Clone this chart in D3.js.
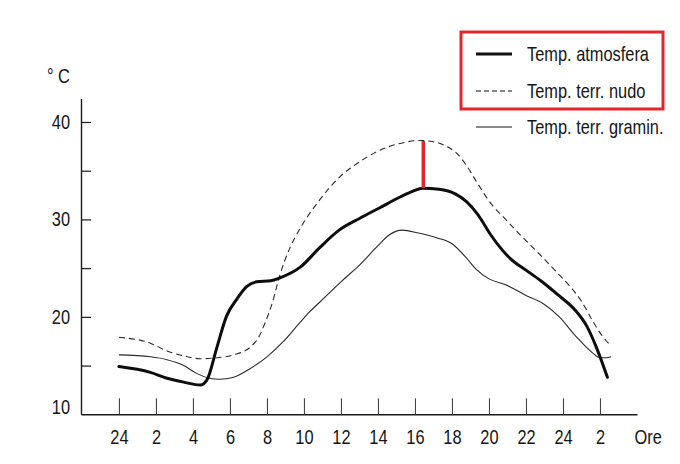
<!DOCTYPE html>
<html>
<head>
<meta charset="utf-8">
<script src="https://cdn.jsdelivr.net/npm/d3@7"></script>
<style>
  html, body { margin: 0; padding: 0; background: #ffffff; }
  svg { display: block; }
  text { font-family: "Liberation Sans", Arial, Helvetica, sans-serif; fill: #151515; }
</style>
</head>
<body>
<svg id="chart" width="680" height="464"></svg>
<script>
// ---- data (hours counted from the first "24" tick) ----
const tickHours  = [0, 2, 4, 6, 8, 10, 12, 14, 16, 18, 20, 22, 24, 26];
const tickLabels = ["24", "2", "4", "6", "8", "10", "12", "14", "16", "18", "20", "22", "24", "2"];
const yTicks     = [10, 15, 20, 25, 30, 35, 40];
const yLabels    = [10, 20, 30, 40];

const seriesNames = ["Temp. atmosfera", "Temp. terr. nudo", "Temp. terr. gramin."];

const atmosferaOre = [0, 1.7, 2.6, 3.5, 4.4, 4.75, 5.3, 5.8, 6.4, 6.9, 7.45, 8.2, 8.7, 9.8, 10.85, 11.9, 13.0, 14.1, 15.2, 15.9, 16.4, 17.3, 18.2, 18.8, 19.4, 20.1, 20.7, 21.2, 22.0, 22.8, 23.7, 24.7, 25.3, 25.8, 26.4];
const atmosferaT   = [14.9, 14.3, 13.7, 13.3, 13.0, 13.5, 16.9, 20.0, 21.9, 23.1, 23.6, 23.7, 24.0, 25.1, 27.1, 28.9, 30.1, 31.2, 32.3, 32.9, 33.2, 33.1, 32.6, 31.8, 30.5, 28.4, 26.9, 25.9, 24.8, 23.7, 22.3, 20.6, 19.0, 16.9, 13.8];

const nudoOre = [0, 1.7, 2.6, 3.5, 4.4, 5.3, 6.2, 7.1, 7.55, 7.9, 8.3, 8.7, 9.2, 9.8, 10.85, 11.9, 13.0, 14.1, 15.2, 16.25, 16.95, 17.6, 18.25, 18.8, 19.35, 20.0, 20.95, 21.8, 22.75, 23.65, 24.35, 25.0, 25.6, 26.1, 26.6];
const nudoT   = [17.9, 17.3, 16.5, 16.0, 15.7, 15.8, 16.1, 16.9, 17.9, 19.4, 21.5, 24.3, 26.9, 29.1, 32.0, 34.3, 35.9, 37.1, 37.8, 38.1, 38.0, 37.6, 36.8, 35.5, 33.8, 31.9, 29.9, 28.2, 26.4, 24.6, 23.2, 21.6, 19.6, 18.1, 17.0];

const graminOre = [0, 1.7, 2.6, 3.5, 4.2, 4.9, 5.45, 6.2, 7.1, 8.0, 8.85, 9.8, 10.3, 10.85, 12.0, 13.0, 14.0, 14.6, 15.3, 16.2, 17.2, 18.0, 18.8, 19.3, 20.0, 20.9, 22.0, 22.9, 23.8, 24.7, 25.6, 26.0, 26.35, 26.6];
const graminT   = [16.1, 15.9, 15.6, 15.0, 14.2, 13.7, 13.6, 13.8, 14.7, 15.9, 17.4, 19.45, 20.5, 21.5, 23.6, 25.3, 27.3, 28.4, 28.9, 28.6, 28.1, 27.5, 26.0, 24.9, 23.9, 23.3, 22.2, 21.4, 20.0, 18.0, 16.3, 15.8, 15.8, 15.9];

// red marker: difference between the two peaks
const markerOra = 16.45;
const markerDa  = 38.05;
const markerA   = 33.2;

// ---- drawing ----
const svg = d3.select("#chart");
const x = d3.scaleLinear().domain([-2.05, 28]).range([81, 637]);
const y = d3.scaleLinear().domain([10, 42.4]).range([414.3, 98.6]);

const ink = "#1a1a1a";
const SX = 0.82; // narrow (condensed) letter shapes as in the original

function narrow(sel) {
  sel.each(function () {
    const t = d3.select(this);
    const tx = +t.attr("x") || 0, ty = +t.attr("y") || 0;
    t.attr("x", 0).attr("y", 0).attr("transform", `translate(${tx},${ty}) scale(${SX},1)`);
  });
}

// x axis
const xAxis = d3.axisBottom(x)
  .tickValues(tickHours)
  .tickFormat((d, i) => tickLabels[i])
  .tickSizeInner(-16)
  .tickSizeOuter(0)
  .tickPadding(15);
const gx = svg.append("g").attr("transform", `translate(0,${y(10)})`).call(xAxis);
gx.attr("font-family", null).attr("font-size", null);
gx.select(".domain").attr("stroke", ink).attr("stroke-width", 1.4);
gx.selectAll(".tick line").attr("stroke", "#444").attr("stroke-width", 1.1);
gx.selectAll(".tick text").attr("font-size", 20).attr("fill", ink).call(narrow);

// y axis
const yAxis = d3.axisLeft(y)
  .tickValues(yTicks)
  .tickFormat(d => yLabels.includes(d) ? String(d) : "")
  .tickSizeInner(-10)
  .tickSizeOuter(0)
  .tickPadding(11);
const gy = svg.append("g").attr("transform", `translate(${x(-2.05)},0)`).call(yAxis);
gy.attr("font-family", null).attr("font-size", null);
gy.select(".domain").attr("stroke", ink).attr("stroke-width", 1.4);
gy.selectAll(".tick line").attr("stroke", ink).attr("stroke-width", 1.2)
  .attr("display", d => d === 10 ? "none" : null);
gy.selectAll(".tick text").attr("font-size", 20).attr("fill", ink)
  .attr("dy", d => d === 10 ? "-0.05em" : "0.32em").call(narrow);

// unit labels
svg.append("text").attr("x", 47).attr("y", 83).attr("font-size", 20).text("° C").call(narrow);
svg.append("text").attr("x", x(28.6)).attr("y", y(10) + 30).attr("text-anchor", "middle")
  .attr("font-size", 20).text("Ore").call(narrow);

// lines
const line = d3.line().x(d => x(d[0])).y(d => y(d[1])).curve(d3.curveMonotoneX);
const zip = (a, b) => a.map((v, i) => [v, b[i]]);

svg.append("path").datum(zip(graminOre, graminT)).attr("d", line)
  .attr("fill", "none").attr("stroke", "#2a2a2a").attr("stroke-width", 1.1);
svg.append("path").datum(zip(nudoOre, nudoT)).attr("d", line)
  .attr("fill", "none").attr("stroke", "#2a2a2a").attr("stroke-width", 1.1)
  .attr("stroke-dasharray", "6,4");
svg.append("path").datum(zip(atmosferaOre, atmosferaT)).attr("d", line)
  .attr("fill", "none").attr("stroke", "#0d0d0d").attr("stroke-width", 3)
  .attr("stroke-linecap", "round");

// red marker
svg.append("line")
  .attr("x1", x(markerOra)).attr("x2", x(markerOra))
  .attr("y1", y(markerDa)).attr("y2", y(markerA))
  .attr("stroke", "#e3262c").attr("stroke-width", 3.5);

// legend
const legY = [54, 91, 127];
const legStyles = [
  { w: 3, dash: null },
  { w: 1.1, dash: "5,3" },
  { w: 1.1, dash: null }
];
const leg = svg.append("g");
seriesNames.forEach((name, i) => {
  leg.append("line").attr("x1", 476).attr("x2", 512).attr("y1", legY[i]).attr("y2", legY[i])
    .attr("stroke", "#111").attr("stroke-width", legStyles[i].w)
    .attr("stroke-dasharray", legStyles[i].dash);
  leg.append("text").attr("x", 527).attr("y", legY[i] + 7).attr("font-size", 20).text(name).call(narrow);
});
leg.append("rect").attr("x", 461).attr("y", 32).attr("width", 202).attr("height", 77)
  .attr("fill", "none").attr("stroke", "#e3262c").attr("stroke-width", 3);
</script>
</body>
</html>
